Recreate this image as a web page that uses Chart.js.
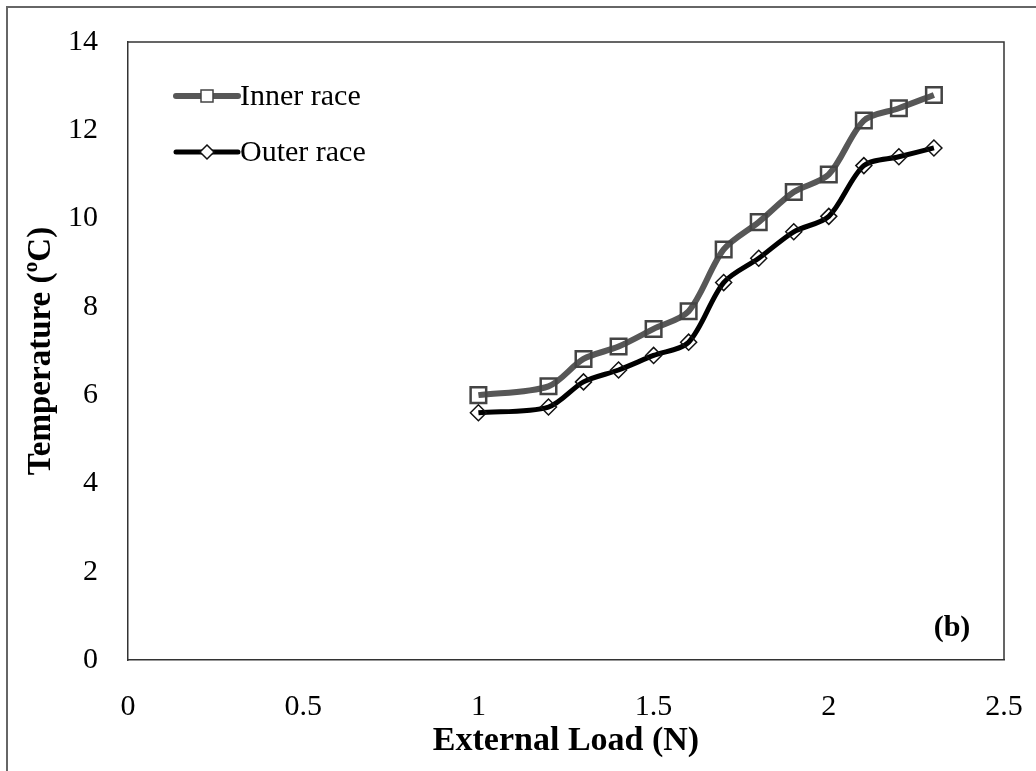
<!DOCTYPE html>
<html>
<head>
<meta charset="utf-8">
<script src="https://cdn.jsdelivr.net/npm/chart.js@4.4.0/dist/chart.umd.min.js"></script>
<style>
  html, body { margin: 0; padding: 0; background: #fff; }
  #wrap { position: relative; width: 1036px; height: 771px; }
  #frame { position: absolute; left: 6px; top: 6px; width: 1100px; height: 900px;
           border-left: 2px solid #666; border-top: 2px solid #666; pointer-events: none; }
  canvas { position: absolute; left: 0; top: 0; }
</style>
</head>
<body>
<div id="wrap">
  <canvas id="chart" width="1036" height="771"></canvas>
  <div id="frame"></div>
</div>
<script>
const loads = [1.0, 1.2, 1.3, 1.4, 1.5, 1.6, 1.7, 1.8, 1.9, 2.0, 2.1, 2.2, 2.3];
const innerRace = [6.0, 6.2, 6.82, 7.1, 7.5, 7.9, 9.3, 9.92, 10.6, 11.0, 12.22, 12.5, 12.8];
const outerRace = [5.6, 5.73, 6.3, 6.57, 6.9, 7.2, 8.55, 9.1, 9.7, 10.05, 11.2, 11.4, 11.6];
const seriesNames = ["Inner race", "Outer race"];
const xTicks = [0, 0.5, 1, 1.5, 2, 2.5];
const yTicks = [0, 2, 4, 6, 8, 10, 12, 14];

const serif = "'Liberation Serif', 'Times New Roman', serif";

function toPoints(ys) {
  return loads.map((x, i) => ({ x: x, y: ys[i] }));
}

// legend drawn as line + marker, like the spreadsheet legend
const lineLegend = {
  id: "lineLegend",
  afterDraw(chart) {
    const ctx = chart.ctx;
    const rows = [96, 152];
    chart.data.datasets.forEach((ds, i) => {
      const y = rows[i];
      ctx.save();
      ctx.strokeStyle = ds.borderColor;
      ctx.lineWidth = ds.borderWidth;
      ctx.lineCap = "round";
      ctx.beginPath();
      ctx.moveTo(176, y);
      ctx.lineTo(238, y);
      ctx.stroke();
      ctx.fillStyle = "#fff";
      ctx.strokeStyle = ds.pointBorderColor;
      ctx.lineWidth = 1.5;
      ctx.beginPath();
      if (ds.pointStyle === "rect") {
        ctx.rect(201, y - 6, 12, 12);
      } else {
        ctx.moveTo(207, y - 7); ctx.lineTo(214, y); ctx.lineTo(207, y + 7); ctx.lineTo(200, y);
        ctx.closePath();
      }
      ctx.fill();
      ctx.stroke();
      ctx.fillStyle = "#000";
      ctx.font = "30px " + serif;
      ctx.textBaseline = "middle";
      ctx.textAlign = "left";
      ctx.fillText(ds.label, 240, y + 1);
      ctx.restore();
    });
    // panel tag and plot frame (top/right)
    const a = chart.chartArea;
    ctx.save();
    ctx.strokeStyle = "#333";
    ctx.lineWidth = 1.5;
    ctx.beginPath();
    ctx.moveTo(a.left, a.top);
    ctx.lineTo(a.right, a.top);
    ctx.lineTo(a.right, a.bottom);
    ctx.stroke();
    ctx.fillStyle = "#000";
    ctx.font = "bold 30px " + serif;
    ctx.textAlign = "center";
    ctx.textBaseline = "middle";
    ctx.fillText("(b)", 952, 628);
    ctx.restore();
  }
};

new Chart(document.getElementById("chart"), {
  type: "line",
  data: {
    datasets: [
      {
        label: seriesNames[0],
        data: toPoints(innerRace),
        borderColor: "#575757",
        borderWidth: 6,
        tension: 0.3,
        pointStyle: "rect",
        pointRadius: 11,
        pointBorderWidth: 2.5,
        pointBorderColor: "#444444",
        pointBackgroundColor: "rgba(0,0,0,0)"
      },
      {
        label: seriesNames[1],
        data: toPoints(outerRace),
        borderColor: "#000000",
        borderWidth: 5,
        tension: 0.3,
        pointStyle: "rectRot",
        pointRadius: 8,
        pointBorderWidth: 1.5,
        pointBorderColor: "#111111",
        pointBackgroundColor: "rgba(0,0,0,0)"
      }
    ]
  },
  options: {
    responsive: false,
    animation: false,
    layout: { padding: { left: 0, top: 42, right: 32, bottom: 0 } },
    plugins: {
      legend: { display: false },
      tooltip: { enabled: false }
    },
    scales: {
      x: {
        type: "linear",
        min: 0,
        max: 2.5,
        afterBuildTicks: (s) => { s.ticks = xTicks.map(v => ({ value: v })); },
        afterFit: (s) => { s.height = 111; s.paddingLeft = 0; s.paddingRight = 0; },
        grid: { display: false, drawTicks: true, tickLength: 11, tickColor: "#333", tickWidth: 1.5 },
        border: { display: true, color: "#333", width: 1.5 },
        ticks: { color: "#000", font: { family: serif, size: 30 }, padding: 18,
                 maxRotation: 0, autoSkip: false, callback: (v) => String(v) },
        title: { display: true, text: "External Load (N)", color: "#000",
                 font: { family: serif, size: 34, weight: "bold" }, padding: { top: 0, bottom: 9 } }
      },
      y: {
        type: "linear",
        min: 0,
        max: 14,
        afterBuildTicks: (s) => { s.ticks = yTicks.map(v => ({ value: v })); },
        afterFit: (s) => { s.width = 128; s.paddingTop = 0; s.paddingBottom = 0; },
        grid: { display: false, drawTicks: true, tickLength: 10, tickColor: "#333", tickWidth: 1.5 },
        border: { display: true, color: "#333", width: 1.5 },
        ticks: { color: "#000", font: { family: serif, size: 30 }, padding: 20,
                 callback: (v) => String(v) },
        title: { display: true, text: "Temperature (ºC)", color: "#000",
                 font: { family: serif, size: 33, weight: "bold" }, padding: { top: 22, bottom: 0 } }
      }
    }
  },
  plugins: [lineLegend]
});
</script>
</body>
</html>
